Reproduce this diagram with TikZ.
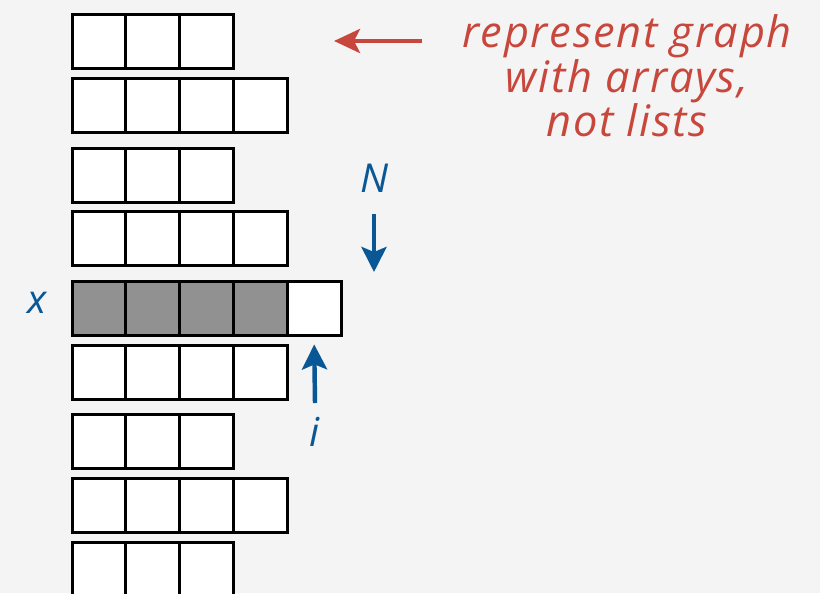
\documentclass[tikz,border=0pt]{standalone}
\usepackage{fontspec}
\setmainfont{Open Sans}
\newfontfamily\notefont[LetterSpace=4]{Open Sans}
\usetikzlibrary{arrows.meta,positioning}
\definecolor{notered}{HTML}{C8473C}
\definecolor{labelblue}{HTML}{0A5796}
\definecolor{bggray}{HTML}{F4F4F4}
\definecolor{usedgray}{HTML}{919191}

\begin{document}
\begin{tikzpicture}[
	x=0.03cm, y=-0.03cm,
	every node/.style={font=\fontsize{34}{35.7}\selectfont\itshape},
	cell/.style={draw, line width=2.5pt, fill=white, minimum size=1.614cm, inner sep=0pt, outer sep=0pt},
	used/.style={cell, fill=usedgray},
	lbl/.style={text=labelblue, inner sep=1pt},
	redarrow/.style={-{Stealth[length=7.8mm, width=7.2mm, inset=1.8mm]}, line width=4pt, notered},
	bluearrow/.style={-{Stealth[length=7.5mm, width=7.5mm, inset=1.5mm]}, line width=3.8pt, labelblue}
	]
	
	% background and frame
	\fill[bggray] (0,0) rectangle (820,593);
	\useasboundingbox (0,0) rectangle (820,593);
	\clip (0,0) rectangle (820,593);
	
	% rows of the adjacency arrays
	\foreach \r/\top/\n in {1/14/3, 2/78/4, 3/148/3, 4/211/4, 6/345/4, 7/414/3, 8/478/4, 9/542/3}
	\foreach \c in {1,...,\n}
	\node[cell] (r\r c\c) at ({99+53.8*(\c-1)}, \top+27.5) {};
	
	% row of vertex x: filled part and next free slot
	\foreach \c in {1,...,4}
	\node[used] (r5c\c) at ({99+53.8*(\c-1)}, 308.5) {};
	\node[cell] (r5c5) at ({99+53.8*4}, 308.5) {};
	
	% labels
	\node[lbl] (x) at (37,303) {x};
	\node[lbl] (N) at (375,178) {N};
	\node[lbl] (i) at (315,432) {i};
	\node[text=notered, align=center, font=\fontsize{37}{35.7}\selectfont\notefont\itshape] (note) at (627,76) {represent graph\\with arrays,\\not lists};
	
	\coordinate (notetail) at (422,41);
	\coordinate (notetip) at (334,41);
	\coordinate (Ntail) at (374,214);
	\coordinate (Ntip) at (374,272);
	\coordinate (itail) at (315,403);
	
	\draw[redarrow] (notetail) -- (notetip);
	\draw[bluearrow] (Ntail) -- (Ntip);
	\draw[bluearrow] (itail) -- ([yshift=-0.27cm]r5c5.south);
	
\end{tikzpicture}
\end{document}
